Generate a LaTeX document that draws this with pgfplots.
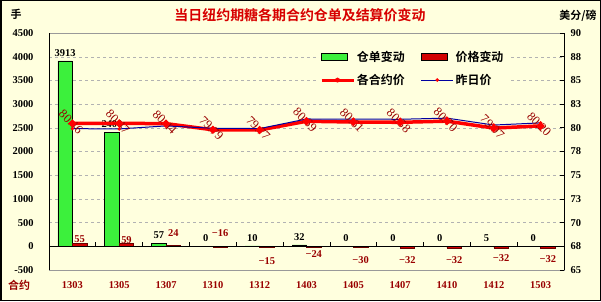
\documentclass[border=0pt]{standalone}
\usepackage{pgfplots}
\pgfplotsset{compat=1.18}
\usepackage{fontspec}
\setmainfont{Liberation Serif}
\newfontfamily\cjk[BoldFont={Noto Sans CJK SC Bold}]{Noto Sans CJK SC}
\definecolor{bg}{RGB}{255,255,222}
\definecolor{barg}{RGB}{60,240,60}
\definecolor{barr}{RGB}{210,0,0}
\definecolor{lab}{RGB}{153,0,0}
\definecolor{linr}{RGB}{255,0,0}
\definecolor{blu}{RGB}{0,0,160}
\definecolor{ttl}{RGB}{215,0,0}
\newcommand{\numfont}{\bfseries\fontsize{10.5}{12}\selectfont}
\begin{document}
\begin{tikzpicture}[x=1bp,y=1bp]
\path[use as bounding box] (0,0) rectangle (601,301);
\fill[bg] (0,0) rectangle (601,301);
\draw[black,line width=1.5bp] (0.75,0.75) rectangle (600.25,300.25);

% title and axis names
\node[text=ttl, font=\cjk\bfseries\fontsize{14}{16}\selectfont] at (300,286) {当日纽约期糖各期合约仓单及结算价变动};
\node[font=\cjk\bfseries\fontsize{11}{13}\selectfont] at (16,287) {手};
\node[font=\cjk\bfseries\fontsize{11}{13}\selectfont] at (578,285) {美分/磅};
\node[text=lab, font=\cjk\bfseries\fontsize{11}{13}\selectfont] at (19,16) {合约};

\begin{axis}[
    at={(49bp,31bp)}, anchor=south west,
    scale only axis, width=515bp, height=237bp,
    xmin=-0.5, xmax=10.5, ymin=-500, ymax=4500,
    ytick={-500,0,...,4500},
    xtick={0,...,10},
    xticklabels={1303,1305,1307,1310,1312,1403,1405,1407,1410,1412,1503},
    xticklabel style={text=lab, yshift=-4bp},
    yticklabel style={xshift=-12bp},
    tick style={draw=none},
    tick label style={font=\numfont},
    /pgf/number format/assume math mode=true,
    /pgf/number format/1000 sep={},
    ymajorgrids, grid style={gray!60, dash pattern=on 3bp off 3bp},
    axis line style={gray!80},
    axis background/.style={fill=bg},
    ybar=0pt, bar width=14.5bp,
    clip=false,
  ]
  % warehouse receipt change
  \addplot[fill=barg, draw=black, line width=0.5bp,
    nodes near coords,
    nodes near coords style={font=\numfont, text=black, yshift=1bp}]
    coordinates {(0,3913)(1,2400)(2,57)(3,0)(4,10)(5,32)(6,0)(7,0)(8,0)(9,5)(10,0)};
  % price change
  \addplot[fill=barr, draw=barr!50!black, line width=0.5bp]
    coordinates {(0,55)(1,59)(2,24)(3,-16)(4,-15)(5,-24)(6,-30)(7,-32)(8,-32)(9,-32)(10,-32)};

  \draw[black, line width=1bp] (axis cs:-0.5,0) -- (axis cs:10.5,0);
  \pgfplotsinvokeforeach{0,...,9}{\draw[black, line width=0.8bp] (axis cs:#1+0.5,0) -- (axis cs:#1+0.5,85);}
  \draw[black, line width=1bp] (rel axis cs:0,0) -- (rel axis cs:0,1);

  \tikzset{rl/.style={font=\numfont, text=lab, xshift=7.25bp}}
  \node[rl] at (axis cs:0,154) {55};
  \node[rl] at (axis cs:1,133) {59};
  \node[rl] at (axis cs:2,281) {24};
  \node[rl] at (axis cs:3,281) {−16};
  \node[rl] at (axis cs:4,-310) {−15};
  \node[rl] at (axis cs:5,-162) {−24};
  \node[rl] at (axis cs:6,-289) {−30};
  \node[rl] at (axis cs:7,-300) {−32};
  \node[rl] at (axis cs:8,-300) {−32};
  \node[rl] at (axis cs:9,-247) {−32};
  \node[rl] at (axis cs:10,-268) {−32};
\end{axis}

\begin{axis}[
    at={(49bp,31bp)}, anchor=south west,
    scale only axis, width=515bp, height=237bp,
    xmin=-0.5, xmax=10.5, ymin=65, ymax=90,
    axis y line*=right, axis x line=none,
    axis line style={black, line width=1bp, -},
    ytick={65,67.5,...,90},
    yticklabels={65,68,70,73,75,78,80,83,85,88,90},
    yticklabel style={xshift=3bp, font=\numfont},
    tick align=inside, major tick length=4bp, ytick style={black, line width=0.8bp},
    clip=false,
    legend columns=2,
    legend cell align=left,
    legend style={at={(0.52,0.94)}, anchor=north west, draw=none, fill=bg,
      font=\cjk\bfseries\fontsize{12}{14}\selectfont, row sep=7bp,
      /tikz/every even column/.append style={column sep=14bp}},
  ]
  % price labels, drawn under the lines
  \addplot[draw=none, mark=none, forget plot, point meta=explicit symbolic,
    nodes near coords,
    nodes near coords style={rotate=-45, anchor=center, text=lab,
      font=\fontsize{12.5}{13}\selectfont, xshift=-2bp}]
    coordinates {(0,80.46)[80.46] (1,80.47)[80.47] (2,80.44)[80.44] (3,79.79)[79.79]
      (4,79.77)[79.77] (5,80.69)[80.69] (6,80.61)[80.61] (7,80.58)[80.58]
      (8,80.70)[80.70] (9,79.97)[79.97] (10,80.20)[80.20]};
  % settlement price
  \addplot[linr, line width=3.5bp, mark=*, mark size=1.8bp, forget plot]
    coordinates {(0,80.46)(1,80.47)(2,80.44)(3,79.79)(4,79.77)(5,80.69)(6,80.61)(7,80.58)(8,80.70)(9,79.97)(10,80.20)};
  % previous day price
  \addplot[blu, line width=1bp, mark=*, mark size=1.2bp, mark options={draw=red, fill=red}, forget plot]
    coordinates {(0,79.91)(1,79.88)(2,80.20)(3,79.95)(4,79.92)(5,80.93)(6,80.91)(7,80.90)(8,81.02)(9,80.29)(10,80.52)};

  \addlegendimage{legend image code/.code={\draw[fill=barg, draw=black, line width=0.8bp] (0bp,-3.5bp) rectangle (26bp,3.5bp);}}
  \addlegendentry{仓单变动}
  \addlegendimage{legend image code/.code={\draw[fill=barr, draw=black, line width=0.8bp] (0bp,-3.5bp) rectangle (26bp,3.5bp);}}
  \addlegendentry{价格变动}
  \addlegendimage{legend image code/.code={\draw[linr, line width=3bp] (0bp,0bp) -- (32bp,0bp); \fill[linr] (16bp,0bp) circle (2.2bp);}}
  \addlegendentry{各合约价}
  \addlegendimage{legend image code/.code={\draw[blu, line width=0.8bp] (0bp,0bp) -- (32bp,0bp); \fill[red] (16bp,0bp) circle (1.6bp);}}
  \addlegendentry{昨日价}
\end{axis}
\end{tikzpicture}
\end{document}
